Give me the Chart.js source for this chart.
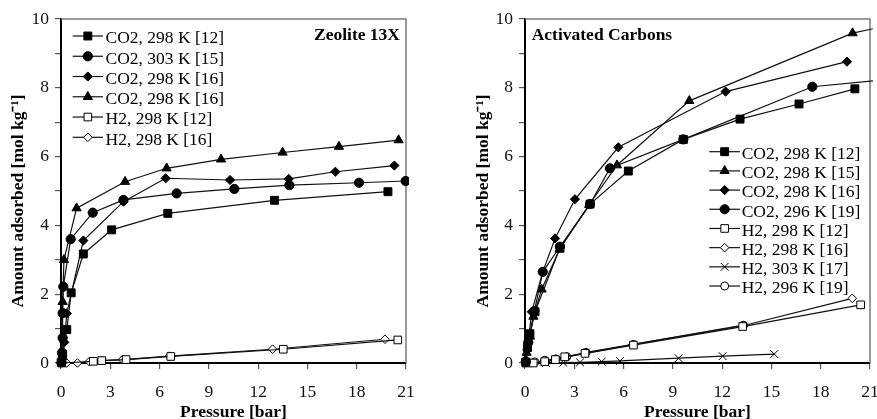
<!DOCTYPE html>
<html>
<head>
<meta charset="utf-8">
<script src="https://cdn.jsdelivr.net/npm/chart.js@4.4.1/dist/chart.umd.min.js"></script>
<style>
  html, body { margin: 0; padding: 0; background: #fff; overflow: hidden; width: 877px; height: 419px; }
  #zeoChart { position: absolute; left: 0; top: 0; }
  #acChart { position: absolute; left: 438px; top: 0; }
</style>
</head>
<body>
<canvas id="zeoChart" width="438" height="419" style="width:438px;height:419px"></canvas>
<canvas id="acChart" width="470" height="419" style="width:470px;height:419px"></canvas>
<script>
// ---- Zeolite 13X (pressure in bar, amount in mol/kg) ----
const zeoCO2_12_p = [0.02, 0.1, 0.35, 0.62, 1.36, 3.08, 6.5, 13.0, 19.9];
const zeoCO2_12_q = [0.02, 0.25, 0.97, 2.04, 3.17, 3.87, 4.35, 4.73, 4.98];
const zeoCO2_15_p = [0.03, 0.06, 0.1, 0.1, 0.14, 0.59, 1.93, 3.8, 7.04, 10.55, 13.9, 18.14, 20.98];
const zeoCO2_15_q = [0.02, 0.3, 0.73, 1.45, 2.22, 3.6, 4.37, 4.74, 4.93, 5.06, 5.17, 5.24, 5.29];
const zeoCO2_16a_p = [0.05, 0.2, 0.35, 1.36, 3.8, 6.37, 10.29, 13.86, 16.7, 20.29];
const zeoCO2_16a_q = [0.1, 0.6, 1.44, 3.56, 4.69, 5.37, 5.32, 5.35, 5.56, 5.74];
const zeoCO2_16b_p = [0.02, 0.1, 0.18, 0.95, 3.9, 6.43, 9.74, 13.49, 16.92, 20.55];
const zeoCO2_16b_q = [0.05, 1.78, 3.0, 4.5, 5.27, 5.66, 5.92, 6.12, 6.29, 6.48];
const zeoH2_12_p = [0.05, 1.97, 2.48, 3.96, 6.68, 13.53, 20.5];
const zeoH2_12_q = [0, 0.05, 0.07, 0.1, 0.19, 0.4, 0.67];
const zeoH2_16_p = [0.35, 1.0, 1.72, 2.48, 3.74, 6.6, 12.88, 19.72];
const zeoH2_16_q = [0, 0, 0.04, 0.07, 0.1, 0.2, 0.4, 0.69];

// ---- Activated carbons ----
const acCO2_12_p = [0.05, 0.15, 0.3, 0.61, 2.13, 3.96, 6.29, 9.64, 13.09, 16.68, 20.08];
const acCO2_12_q = [0.03, 0.45, 0.85, 1.49, 3.35, 4.62, 5.58, 6.5, 7.09, 7.53, 7.97];
const acCO2_15_p = [0.05, 0.1, 0.3, 0.51, 1.01, 2.1, 3.9, 5.6, 10.0, 19.94, 22.0];
const acCO2_15_q = [0.09, 0.3, 0.77, 1.35, 2.14, 3.3, 4.6, 5.75, 7.62, 9.59, 9.8];
const acCO2_16_p = [0.05, 0.14, 0.41, 1.08, 1.83, 3.04, 5.68, 12.21, 19.6];
const acCO2_16_q = [0.05, 0.38, 1.49, 2.65, 3.62, 4.76, 6.27, 7.89, 8.76];
const acCO2_19_p = [0.05, 0.2, 0.57, 1.08, 2.13, 3.96, 5.17, 9.64, 17.49, 22.0];
const acCO2_19_q = [0.03, 0.6, 1.51, 2.65, 3.38, 4.62, 5.66, 6.5, 8.03, 8.24];
const acH2_12_p = [0.05, 0.5, 1.2, 1.85, 2.42, 3.65, 6.6, 13.25, 20.43];
const acH2_12_q = [0, 0, 0.04, 0.1, 0.18, 0.28, 0.52, 1.06, 1.69];
const acH2_16_p = [1.28, 1.89, 2.54, 3.69, 6.59, 13.33, 19.92];
const acH2_16_q = [0.06, 0.11, 0.18, 0.28, 0.54, 1.09, 1.88];
const acH2_17_p = [0.14, 1.28, 2.33, 3.35, 4.67, 5.78, 9.35, 12.03, 15.17];
const acH2_17_q = [0, 0, 0.01, 0.02, 0.04, 0.06, 0.14, 0.2, 0.26];
const acH2_19_p = [0.1, 0.6, 1.2, 1.87, 2.54, 3.71, 6.59, 13.3];
const acH2_19_q = [0.01, 0.03, 0.08, 0.12, 0.18, 0.31, 0.54, 1.1];

const xTicksStep = 3;
const yTickLabels = [0, 2, 4, 6, 8, 10];
const yTitle = 'Amount adsorbed [mol kg\u207B\u00B9]';

const serif = "'Liberation Serif', 'Times New Roman', serif";

function pts(p, q) {
    return p.map((x, i) => ({ x: x, y: q[i] }));
}

// marker looks
const marks = {
    squareFilled:  { style: 'rect', r: 5.6, bg: '#000' },
    circleFilled:  { style: 'circle', r: 4.6, bg: '#000' },
    diamondFilled: { style: 'rectRot', r: 4.6, bg: '#000' },
    triFilled:     { style: 'triangle', r: 5.3, bg: '#000' },
    squareOpen:    { style: 'rect', r: 5.4, bg: '#fff' },
    diamondOpen:   { style: 'rectRot', r: 4.3, bg: '#fff' },
    cross:         { style: 'crossRot', r: 5.5, bg: '#fff' },
    circleOpen:    { style: 'circle', r: 4, bg: '#fff' }
};

function series(label, p, q, m) {
    const mk = marks[m];
    return {
        label: label,
        data: pts(p, q),
        showLine: true,
        borderColor: '#111',
        borderWidth: 1.2,
        pointStyle: mk.style,
        pointRadius: mk.r,
        pointHoverRadius: mk.r,
        pointBackgroundColor: mk.bg,
        pointBorderColor: '#000',
        pointBorderWidth: 1,
        tension: 0,
        clip: { left: 10, top: 10, right: 3, bottom: 10 }
    };
}

// grey frame on top and right of the plot area
const framePlugin = {
    id: 'frame',
    beforeDatasetsDraw(chart) {
        const a = chart.chartArea;
        const ctx = chart.ctx;
        ctx.save();
        ctx.strokeStyle = '#7a7a7a';
        ctx.lineWidth = 1.5;
        ctx.beginPath();
        ctx.moveTo(a.left, a.top);
        ctx.lineTo(a.right, a.top);
        ctx.lineTo(a.right, a.bottom);
        ctx.stroke();
        ctx.restore();
    }
};

// legend drawn inside the plot: line with marker, then text; plus panel name and y title
const boxLegendPlugin = {
    id: 'boxLegend',
    afterDatasetsDraw(chart, args, opts) {
        const ctx = chart.ctx;
        ctx.save();
        ctx.font = '17.5px ' + serif;
        ctx.textBaseline = 'alphabetic';
        ctx.textAlign = 'left';
        chart.data.datasets.forEach((ds, i) => {
            const y = opts.y + i * opts.step;
            ctx.strokeStyle = '#111';
            ctx.lineWidth = 1.2;
            ctx.beginPath();
            ctx.moveTo(opts.x0, y);
            ctx.lineTo(opts.x1, y);
            ctx.stroke();
            ctx.fillStyle = ds.pointBackgroundColor;
            ctx.strokeStyle = '#000';
            ctx.lineWidth = 1;
            Chart.helpers.drawPoint(ctx, {
                pointStyle: ds.pointStyle,
                radius: ds.pointRadius,
                rotation: 0,
                borderWidth: 1
            }, (opts.x0 + opts.x1) / 2, y);
            ctx.fillStyle = '#000';
            ctx.fillText(ds.label, opts.textX, y + 7.3);
        });
        // panel name
        ctx.font = 'bold 17.5px ' + serif;
        ctx.textAlign = opts.titleAlign;
        ctx.fillText(opts.title, opts.titleX, opts.titleY);
        // y axis title
        ctx.translate(opts.yTitleX, opts.yTitleY);
        ctx.rotate(-Math.PI / 2);
        ctx.textAlign = 'center';
        ctx.textBaseline = 'middle';
        ctx.fillText(yTitle, 0, 0);
        ctx.restore();
    }
};

function makeOptions(yAxisWidth, legendOpts) {
    return {
        responsive: false,
        animation: false,
        layout: { padding: { top: 19, right: legendOpts.padRight, left: 0, bottom: 0 } },
        plugins: {
            legend: { display: false },
            tooltip: { enabled: false },
            boxLegend: legendOpts
        },
        scales: {
            x: {
                type: 'linear',
                min: 0,
                max: 21,
                afterFit: (s) => { s.height = 56; },
                border: { display: true, color: '#000', width: 2 },
                grid: { drawOnChartArea: false, drawTicks: true, tickLength: 6, color: '#555', lineWidth: 1.2 },
                ticks: {
                    stepSize: xTicksStep,
                    color: '#111',
                    padding: 13,
                    maxRotation: 0,
                    font: { family: serif, size: 17.5 }
                },
                title: {
                    display: true,
                    text: 'Pressure [bar]',
                    color: '#000',
                    padding: { top: 0, bottom: 0 },
                    font: { family: serif, size: 17.5, weight: 'bold', lineHeight: 0.8 }
                }
            },
            y: {
                min: 0,
                max: 10,
                afterFit: (s) => { s.width = yAxisWidth; },
                border: { display: true, color: '#000', width: 2 },
                grid: { drawOnChartArea: false, drawTicks: true, tickLength: 6, color: '#555', lineWidth: 1.2 },
                ticks: {
                    stepSize: 1,
                    color: '#111',
                    padding: 6,
                    font: { family: serif, size: 17.5 },
                    callback: (v) => (yTickLabels.includes(v) ? String(v) : '')
                }
            }
        }
    };
}

new Chart(document.getElementById('zeoChart'), {
    type: 'scatter',
    data: {
        datasets: [
            series('CO2, 298 K [12]', zeoCO2_12_p, zeoCO2_12_q, 'squareFilled'),
            series('CO2, 303 K [15]', zeoCO2_15_p, zeoCO2_15_q, 'circleFilled'),
            series('CO2, 298 K [16]', zeoCO2_16a_p, zeoCO2_16a_q, 'diamondFilled'),
            series('CO2, 298 K [16]', zeoCO2_16b_p, zeoCO2_16b_q, 'triFilled'),
            series('H2, 298 K [12]', zeoH2_12_p, zeoH2_12_q, 'squareOpen'),
            series('H2, 298 K [16]', zeoH2_16_p, zeoH2_16_q, 'diamondOpen')
        ]
    },
    options: makeOptions(61, {
        padRight: 32,
        x0: 72.7, x1: 103, textX: 105.5, y: 36, step: 20.26,
        title: 'Zeolite 13X', titleAlign: 'right', titleX: 400, titleY: 39.5,
        yTitleX: 18.5, yTitleY: 201
    }),
    plugins: [framePlugin, boxLegendPlugin]
});

new Chart(document.getElementById('acChart'), {
    type: 'scatter',
    data: {
        datasets: [
            series('CO2, 298 K [12]', acCO2_12_p, acCO2_12_q, 'squareFilled'),
            series('CO2, 298 K [15]', acCO2_15_p, acCO2_15_q, 'triFilled'),
            series('CO2, 298 K [16]', acCO2_16_p, acCO2_16_q, 'diamondFilled'),
            series('CO2, 296 K [19]', acCO2_19_p, acCO2_19_q, 'circleFilled'),
            series('H2, 298 K [12]', acH2_12_p, acH2_12_q, 'squareOpen'),
            series('H2, 298 K [16]', acH2_16_p, acH2_16_q, 'diamondOpen'),
            series('H2, 303 K [17]', acH2_17_p, acH2_17_q, 'cross'),
            series('H2, 296 K [19]', acH2_19_p, acH2_19_q, 'circleOpen')
        ]
    },
    options: makeOptions(87, {
        padRight: 38,
        x0: 271.3, x1: 302, textX: 303.7, y: 151.7, step: 19.19,
        title: 'Activated Carbons', titleAlign: 'left', titleX: 93.7, titleY: 39.5,
        yTitleX: 45, yTitleY: 201
    }),
    plugins: [framePlugin, boxLegendPlugin]
});
</script>
</body>
</html>
